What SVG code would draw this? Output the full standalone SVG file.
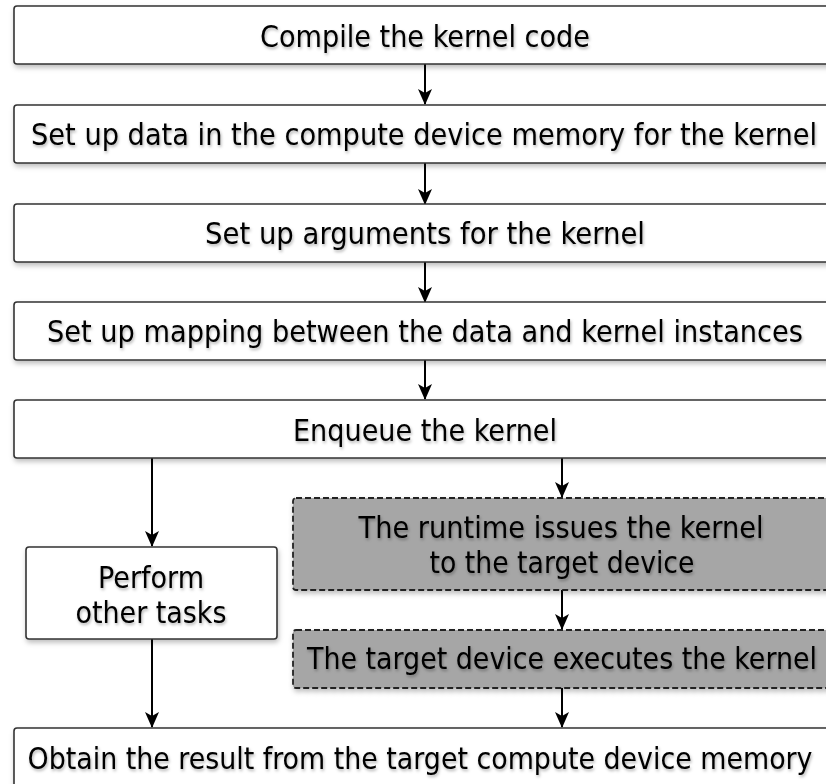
<svg xmlns="http://www.w3.org/2000/svg" width="826" height="784" viewBox="0 0 826 784">
<defs>
<style>
.box{fill:#fff;stroke:#333;stroke-width:1.6}
.gray{fill:#a6a6a6;stroke:#222;stroke-width:1.8;stroke-dasharray:6 3}
.t{font-family:"DejaVu Sans Condensed","DejaVu Sans",sans-serif;font-size:30px;fill:#000;text-anchor:middle}
.c{stroke:#000;stroke-width:2;fill:none;marker-end:url(#ah)}
</style>
<filter id="sh" x="-5%" y="-20%" width="110%" height="150%">
<feDropShadow dx="1" dy="3" stdDeviation="2.5" flood-color="#000" flood-opacity="0.25"/>
</filter>
<filter id="tsh" x="-5%" y="-30%" width="110%" height="160%">
<feDropShadow dx="1" dy="2" stdDeviation="1.5" flood-color="#000" flood-opacity="0.3"/>
</filter>
<marker id="ah" markerWidth="16" markerHeight="14" refX="15" refY="7" orient="auto" markerUnits="userSpaceOnUse" viewBox="0 0 16 14">
<path d="M0,0 L4,7 L0,14 L16,7 Z" fill="#000"/>
</marker>
</defs>
<g id="connectors">
<path class="c" d="M425,64 V104"/>
<path class="c" d="M425,163 V204"/>
<path class="c" d="M425,262 V302"/>
<path class="c" d="M425,360 V399"/>
<path class="c" d="M152,458 V546"/>
<path class="c" d="M562,458 V497"/>
<path class="c" d="M562,590 V629"/>
<path class="c" d="M152,639 V727"/>
<path class="c" d="M562,688 V727"/>
</g>
<g id="n1"><rect class="box" filter="url(#sh)" x="14" y="6" width="820" height="58" rx="3"/><text class="t" filter="url(#tsh)" x="425" y="47" textLength="330" lengthAdjust="spacingAndGlyphs">Compile the kernel code</text></g>
<g id="n2"><rect class="box" filter="url(#sh)" x="14" y="105" width="820" height="58" rx="3"/><text class="t" filter="url(#tsh)" x="424" y="145" textLength="786" lengthAdjust="spacingAndGlyphs">Set up data in the compute device memory for the kernel</text></g>
<g id="n3"><rect class="box" filter="url(#sh)" x="14" y="204" width="820" height="58" rx="3"/><text class="t" filter="url(#tsh)" x="425" y="244" textLength="440" lengthAdjust="spacingAndGlyphs">Set up arguments for the kernel</text></g>
<g id="n4"><rect class="box" filter="url(#sh)" x="14" y="302" width="820" height="58" rx="3"/><text class="t" filter="url(#tsh)" x="425" y="342" textLength="756" lengthAdjust="spacingAndGlyphs">Set up mapping between the data and kernel instances</text></g>
<g id="n5"><rect class="box" filter="url(#sh)" x="14" y="400" width="820" height="58" rx="3"/><text class="t" filter="url(#tsh)" x="425" y="441" textLength="264" lengthAdjust="spacingAndGlyphs">Enqueue the kernel</text></g>
<g id="n6"><rect class="box" filter="url(#sh)" x="26" y="547" width="251" height="92" rx="3"/><text class="t" filter="url(#tsh)" x="151" y="588" textLength="106" lengthAdjust="spacingAndGlyphs">Perform</text><text class="t" filter="url(#tsh)" x="151" y="623" textLength="151" lengthAdjust="spacingAndGlyphs">other tasks</text></g>
<g id="n7"><rect class="gray" filter="url(#sh)" x="293" y="498" width="540" height="92" rx="3"/><text class="t" filter="url(#tsh)" x="561" y="538" textLength="405" lengthAdjust="spacingAndGlyphs">The runtime issues the kernel</text><text class="t" filter="url(#tsh)" x="562" y="573" textLength="265" lengthAdjust="spacingAndGlyphs">to the target device</text></g>
<g id="n8"><rect class="gray" filter="url(#sh)" x="293" y="630" width="540" height="58" rx="3"/><text class="t" filter="url(#tsh)" x="562" y="669" textLength="510" lengthAdjust="spacingAndGlyphs">The target device executes the kernel</text></g>
<g id="n9"><rect class="box" filter="url(#sh)" x="14" y="728" width="820" height="70" rx="3"/><text class="t" filter="url(#tsh)" x="420" y="769" textLength="785" lengthAdjust="spacingAndGlyphs">Obtain the result from the target compute device memory</text></g>
</svg>
